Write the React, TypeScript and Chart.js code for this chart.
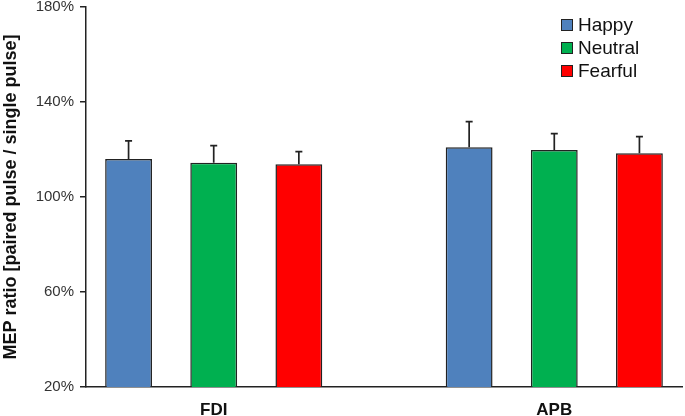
import React, { useEffect, useRef } from "react";
import { Chart, registerables } from "chart.js";

Chart.register(...registerables);

const categories = ["FDI", "APB"];
const seriesNames = ["Happy", "Neutral", "Fearful"];
const happy = [116.0, 121.0];
const neutral = [114.4, 119.8];
const fearful = [113.8, 118.4];
const happyErr = [7.6, 10.7];
const neutralErr = [7.2, 6.9];
const fearfulErr = [5.3, 7.0];
const yMin = 20;
const yMax = 180;
const yStep = 40;
const colors = ["#4F81BD", "#00B050", "#FF0000"];

const seriesValues = [happy, neutral, fearful];
const seriesErrors = [happyErr, neutralErr, fearfulErr];

// slot layout: each category gets one slot per series plus a spacer slot between groups
const slotsPerGroup = seriesNames.length + 1;
const totalSlots = categories.length * slotsPerGroup - 1;
const slotLabels: string[] = Array.from({ length: totalSlots }, () => "");
categories.forEach((c, ci) => {
  slotLabels[ci * slotsPerGroup + Math.floor(seriesNames.length / 2)] = c;
});

const FONT = "'Liberation Sans', Arial, sans-serif";

const errorBarPlugin = {
  id: "errorBars",
  afterDatasetsDraw(chart: any) {
    const ctx = chart.ctx;
    const yScale = chart.scales.y;
    ctx.save();
    ctx.strokeStyle = "#222";
    ctx.lineWidth = 1.7;
    chart.data.datasets.forEach((ds: any, di: number) => {
      const meta = chart.getDatasetMeta(di);
      meta.data.forEach((el: any, idx: number) => {
        const v = ds.data[idx];
        if (v == null) return;
        const err = ds.errors[idx];
        if (err == null) return;
        const yTop = yScale.getPixelForValue(v + err);
        ctx.beginPath();
        ctx.moveTo(el.x, el.y);
        ctx.lineTo(el.x, yTop);
        ctx.moveTo(el.x - 3.5, yTop);
        ctx.lineTo(el.x + 3.5, yTop);
        ctx.stroke();
      });
    });
    ctx.restore();
  },
};

const legendPlugin = {
  id: "customLegend",
  afterDraw(chart: any) {
    const ctx = chart.ctx;
    const area = chart.chartArea;
    const boxX = area.right - 121;
    const textX = boxX + 17;
    const startY = 25;
    const rowH = 23;
    ctx.save();
    ctx.font = `19px ${FONT}`;
    ctx.textBaseline = "middle";
    ctx.textAlign = "left";
    chart.data.datasets.forEach((ds: any, i: number) => {
      const cy = startY + i * rowH;
      ctx.fillStyle = ds.backgroundColor;
      ctx.fillRect(boxX, cy - 6, 12, 12);
      ctx.strokeStyle = "#222";
      ctx.lineWidth = 1;
      ctx.strokeRect(boxX + 0.5, cy - 5.5, 11, 11);
      ctx.fillStyle = "#111";
      ctx.fillText(ds.label, textX, cy + 1);
    });
    ctx.restore();
  },
};

export default function App() {
  const canvasRef = useRef<HTMLCanvasElement | null>(null);

  useEffect(() => {
    const canvas = canvasRef.current;
    if (!canvas) return;
    const datasets = seriesNames.map((name, si) => {
      const data: (number | null)[] = Array.from({ length: totalSlots }, () => null);
      const errors: (number | null)[] = Array.from({ length: totalSlots }, () => null);
      categories.forEach((_, ci) => {
        data[ci * slotsPerGroup + si] = seriesValues[si][ci];
        errors[ci * slotsPerGroup + si] = seriesErrors[si][ci];
      });
      return {
        label: name,
        data,
        errors,
        backgroundColor: colors[si],
        borderColor: "#222",
        borderWidth: 1.5,
        borderSkipped: "bottom",
        grouped: false,
        categoryPercentage: 1,
        barPercentage: 0.55,
      } as any;
    });

    const chart = new Chart(canvas, {
      type: "bar",
      data: { labels: slotLabels, datasets },
      options: {
        animation: false,
        responsive: false,
        maintainAspectRatio: false,
        layout: { padding: { top: 7, right: 3, left: 0, bottom: 0 } },
        plugins: { legend: { display: false }, tooltip: { enabled: false } },
        scales: {
          x: {
            type: "category",
            offset: true,
            grid: { display: false, drawTicks: false },
            border: { display: true, color: "#222", width: 1.5 },
            ticks: {
              autoSkip: false,
              maxRotation: 0,
              padding: 13,
              color: "#111",
              font: { family: FONT, size: 17, weight: "bold" },
            },
            afterFit(scale: any) {
              scale.height = 29;
              scale.paddingLeft = 0;
              scale.paddingRight = 0;
            },
          },
          y: {
            min: yMin,
            max: yMax,
            ticks: {
              stepSize: yStep,
              padding: 6,
              color: "#333",
              font: { family: FONT, size: 15 },
              callback: (v: any) => `${v}%`,
            },
            grid: {
              display: true,
              drawOnChartArea: false,
              drawTicks: true,
              tickLength: 6,
              color: "#222",
              lineWidth: 1.5,
            },
            border: { display: true, color: "#222", width: 1.5 },
            title: {
              display: true,
              text: "MEP ratio [paired pulse / single pulse]",
              color: "#111",
              font: { family: FONT, size: 18, weight: "bold" },
              padding: { top: 0, bottom: 0 },
            },
            afterFit(scale: any) {
              scale.width = 86;
              scale.paddingTop = 0;
              scale.paddingBottom = 0;
            },
          },
        },
      },
      plugins: [errorBarPlugin, legendPlugin],
    });
    return () => chart.destroy();
  }, []);

  return (
    <div style={{ position: "fixed", left: 0, top: 0, width: 685, height: 416, background: "#fff" }}>
      <canvas ref={canvasRef} width={685} height={416} style={{ display: "block" }} />
    </div>
  );
}
